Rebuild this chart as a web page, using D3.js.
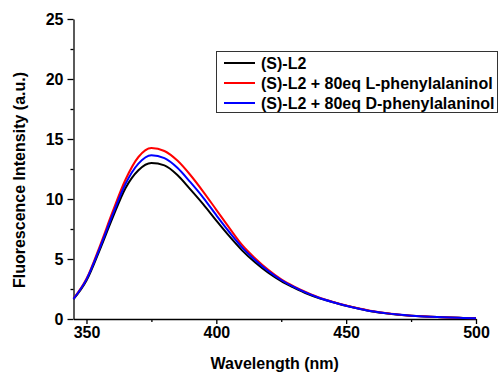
<!DOCTYPE html>
<html>
<head>
<meta charset="utf-8">
<script src="https://cdn.jsdelivr.net/npm/d3@7"></script>
<style>
  body { margin: 0; background: #fff; }
  text { font-family: "Liberation Sans", Arial, sans-serif; font-weight: bold; }
</style>
</head>
<body>
<div id="chart"></div>
<script>
var wavelengths = [345, 350, 355, 360, 365, 370, 375, 380, 385, 390, 395, 400, 405, 410, 415, 420,
  425, 430, 435, 440, 445, 450, 455, 460, 465, 470, 475, 480, 485, 490, 495, 500];

var ligandOnly = [1.65, 3.2, 5.7, 8.4, 10.9, 12.4, 13.0, 12.8, 12.0, 10.8, 9.55, 8.2, 6.9, 5.7, 4.7, 3.85,
  3.15, 2.6, 2.1, 1.7, 1.4, 1.1, 0.85, 0.63, 0.48, 0.36, 0.27, 0.21, 0.17, 0.12, 0.09, 0.06];
var withL = [1.7, 3.35, 6.0, 8.9, 11.6, 13.5, 14.25, 14.0, 13.2, 12.0, 10.6, 9.1, 7.6, 6.15, 5.05, 4.1,
  3.3, 2.7, 2.2, 1.76, 1.42, 1.13, 0.88, 0.66, 0.5, 0.38, 0.28, 0.22, 0.17, 0.12, 0.09, 0.06];
var withD = [1.68, 3.3, 5.85, 8.65, 11.25, 12.95, 13.65, 13.4, 12.6, 11.4, 10.1, 8.65, 7.25, 5.95, 4.9, 4.0,
  3.25, 2.65, 2.15, 1.73, 1.4, 1.11, 0.86, 0.64, 0.49, 0.37, 0.28, 0.21, 0.16, 0.12, 0.09, 0.06];

var seriesNames = ["(S)-L2", "(S)-L2 + 80eq L-phenylalaninol", "(S)-L2 + 80eq D-phenylalaninol"];
var seriesColors = ["#000000", "#ff0000", "#0000ff"];
var xTicks = [350, 400, 450, 500];
var yTicks = [0, 5, 10, 15, 20, 25];

var width = 499, height = 374;
var margin = { left: 73.5, right: 23, top: 19, bottom: 55 };
var fontSize = 16;

var svg = d3.select("#chart").append("svg")
  .attr("width", width)
  .attr("height", height);

var x = d3.scaleLinear().domain([345, 500]).range([margin.left, width - margin.right]);
var y = d3.scaleLinear().domain([0, 25]).range([height - margin.bottom, margin.top]);

// minor ticks first, then the labelled axis on top
svg.append("g")
  .attr("transform", "translate(0," + y(0) + ")")
  .call(d3.axisBottom(x).tickValues([375, 425, 475]).tickSize(3).tickFormat(""))
  .call(function(g) { g.select(".domain").remove(); });

svg.append("g")
  .attr("transform", "translate(" + x(345) + ",0)")
  .call(d3.axisLeft(y).tickValues([2.5, 7.5, 12.5, 17.5, 22.5]).tickSize(3).tickFormat(""))
  .call(function(g) { g.select(".domain").remove(); });

svg.append("g")
  .attr("transform", "translate(0," + y(0) + ")")
  .call(d3.axisBottom(x).tickValues(xTicks).tickSize(5).tickSizeOuter(0).tickPadding(3));

svg.append("g")
  .attr("transform", "translate(" + x(345) + ",0)")
  .call(d3.axisLeft(y).tickValues(yTicks).tickSize(6).tickSizeOuter(0).tickPadding(4));

svg.selectAll(".tick text").attr("font-size", fontSize).attr("fill", "#000");
svg.selectAll(".domain, .tick line").attr("stroke", "#000").attr("stroke-width", 1.3);

svg.append("text")
  .attr("x", (x(345) + x(500)) / 2)
  .attr("y", 369)
  .attr("text-anchor", "middle")
  .attr("font-size", fontSize)
  .text("Wavelength (nm)");

svg.append("text")
  .attr("transform", "translate(25,180) rotate(-90)")
  .attr("text-anchor", "middle")
  .attr("font-size", fontSize)
  .text("Fluorescence Intensity (a.u.)");

var line = d3.line()
  .x(function(d) { return x(d[0]); })
  .y(function(d) { return y(d[1]); })
  .curve(d3.curveMonotoneX);

[ligandOnly, withL, withD].forEach(function(values, i) {
  svg.append("path")
    .datum(wavelengths.map(function(w, j) { return [w, values[j]]; }))
    .attr("fill", "none")
    .attr("stroke", seriesColors[i])
    .attr("stroke-width", 2)
    .attr("d", line);
});

// legend
var legend = svg.append("g");
legend.append("rect")
  .attr("x", 216.5).attr("y", 51.5)
  .attr("width", 281).attr("height", 61)
  .attr("fill", "#fff")
  .attr("stroke", "#333")
  .attr("stroke-width", 1);

seriesNames.forEach(function(name, i) {
  var cy = 63 + i * 20;
  legend.append("line")
    .attr("x1", 224).attr("x2", 255)
    .attr("y1", cy).attr("y2", cy)
    .attr("stroke", seriesColors[i])
    .attr("stroke-width", 2);
  legend.append("text")
    .attr("x", 261).attr("y", cy + 6)
    .attr("font-size", fontSize)
    .text(name);
});
</script>
</body>
</html>
